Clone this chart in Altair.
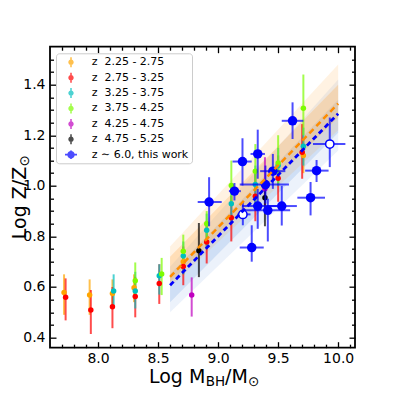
import altair as alt
import pandas as pd

# ---------------- data ----------------
series_names = ["z\u00a0 2.25 - 2.75", "z\u00a0 2.75 - 3.25", "z\u00a0 3.25 - 3.75",
                "z\u00a0 3.75 - 4.25", "z\u00a0 4.25 - 4.75", "z\u00a0 4.75 - 5.25",
                "z \u223c 6.0, this work"]
series_colors = ["#ffa500", "#ff0000", "#00bfbf", "#7cfc00", "#bf00bf", "#000000", "#0000ff"]

orange_x = [7.717, 7.93, 8.12, 8.30, 8.71, 9.71]
orange_y = [0.578, 0.568, 0.574, 0.597, 0.70, 1.12]
orange_lo = [0.49, 0.49, 0.52, 0.54, 0.65, 1.05]
orange_hi = [0.65, 0.63, 0.63, 0.65, 0.75, 1.19]

red_x = [7.73, 7.94, 8.12, 8.31, 8.51, 8.71, 8.905, 9.11, 9.31, 9.50, 9.70]
red_y = [0.559, 0.509, 0.522, 0.562, 0.614, 0.681, 0.778, 0.874, 0.959, 1.03, 1.133]
red_lo = [0.468, 0.414, 0.437, 0.48, 0.533, 0.607, 0.693, 0.78, 0.86, 0.937, 1.028]
red_hi = [0.634, 0.588, 0.60, 0.64, 0.69, 0.76, 0.86, 0.96, 1.05, 1.12, 1.244]

cyan_x = [8.13, 8.31, 8.51, 8.71, 8.905, 9.11, 9.31, 9.50, 9.71]
cyan_y = [0.584, 0.584, 0.644, 0.723, 0.824, 0.929, 1.005, 1.08, 1.156]
cyan_lo = [0.52, 0.515, 0.57, 0.65, 0.75, 0.85, 0.92, 1.0, 1.08]
cyan_hi = [0.65, 0.66, 0.69, 0.78, 0.89, 1.0, 1.08, 1.15, 1.23]

green_x = [8.31, 8.53, 8.71, 8.905, 9.11, 9.31, 9.50, 9.71]
green_y = [0.625, 0.651, 0.741, 0.85, 1.001, 1.058, 1.09, 1.307]
green_lo = [0.56, 0.568, 0.67, 0.78, 0.93, 0.98, 1.01, 1.20]
green_hi = [0.697, 0.715, 0.807, 0.90, 1.10, 1.165, 1.20, 1.44]

magenta_x = [8.78, 9.39]
magenta_y = [0.568, 0.988]
magenta_lo = [0.483, 0.92]
magenta_hi = [0.638, 1.113]

black_x = [8.84, 9.39]
black_y = [0.743, 0.953]
black_lo = [0.639, 0.84]
black_hi = [0.853, 1.0]

# this work (z ~ 6)
blue_x = [8.925, 9.136, 9.203, 9.33, 9.456, 9.394, 9.62, 9.82, 9.77, 9.33, 9.414, 9.53, 9.28, 9.206, 9.93]
blue_xlo = [8.83, 9.09, 9.12, 9.27, 9.35, 9.18, 9.53, 9.725, 9.66, 9.20, 9.22, 9.405, 9.18, 9.16, 9.79]
blue_xhi = [9.03, 9.19, 9.28, 9.39, 9.56, 9.59, 9.71, 9.92, 9.89, 9.49, 9.60, 9.656, 9.38, 9.27, 10.06]
blue_y = [0.936, 0.979, 1.096, 1.126, 1.058, 1.005, 1.257, 1.06, 0.953, 0.92, 0.903, 0.92, 0.756, 0.887, 1.165]
blue_ylo = [0.84, 0.942, 1.001, 1.028, 0.988, 0.93, 1.185, 1.015, 0.883, 0.83, 0.78, 0.843, 0.70, 0.844, 1.074]
blue_yhi = [1.034, 1.011, 1.188, 1.222, 1.126, 1.08, 1.33, 1.102, 1.015, 0.988, 0.949, 1.0, 0.844, 0.936, 1.27]
blue_open = [False] * 13 + [True, True]

# fits
fit_x = [8.6, 10.0]
orange_fit = [0.64, 1.325]
blue_fit = [0.607, 1.285]
orange_outer_lo = [0.60, 1.22]
orange_outer_hi = [0.76, 1.48]
orange_inner_lo = [0.62, 1.27]
orange_inner_hi = [0.72, 1.40]
blue_outer_lo = [0.50, 1.14]
blue_outer_hi = [0.68, 1.42]
blue_inner_lo = [0.54, 1.21]
blue_inner_hi = [0.65, 1.34]

# axis ticks
x_major = [8.0, 8.5, 9.0, 9.5, 10.0]
x_minor = [7.7, 7.8, 7.9, 8.1, 8.2, 8.3, 8.4, 8.6, 8.7, 8.8, 8.9, 9.1, 9.2, 9.3, 9.4,
           9.6, 9.7, 9.8, 9.9, 10.1]
y_major = [0.4, 0.6, 0.8, 1.0, 1.2, 1.4]
y_minor = [0.45, 0.5, 0.55, 0.65, 0.7, 0.75, 0.85, 0.9, 0.95, 1.05, 1.1, 1.15, 1.25,
           1.3, 1.35, 1.45, 1.5]

# ---------------- tables ----------------
rows = []
for name, col, xs_, ys_, lo_, hi_ in [
    (series_names[0], series_colors[0], orange_x, orange_y, orange_lo, orange_hi),
    (series_names[1], series_colors[1], red_x, red_y, red_lo, red_hi),
    (series_names[2], series_colors[2], cyan_x, cyan_y, cyan_lo, cyan_hi),
    (series_names[3], series_colors[3], green_x, green_y, green_lo, green_hi),
    (series_names[4], series_colors[4], magenta_x, magenta_y, magenta_lo, magenta_hi),
    (series_names[5], series_colors[5], black_x, black_y, black_lo, black_hi),
]:
    for a, b, c, d in zip(xs_, ys_, lo_, hi_):
        rows.append({"series": name, "col": col, "x": a, "y": b, "lo": c, "hi": d})
lit = pd.DataFrame(rows)

blue = pd.DataFrame({"x": blue_x, "xlo": blue_xlo, "xhi": blue_xhi,
                     "y": blue_y, "ylo": blue_ylo, "yhi": blue_yhi, "open": blue_open})

fits = pd.DataFrame({"x": fit_x, "of": orange_fit, "bf": blue_fit,
                     "oolo": orange_outer_lo, "oohi": orange_outer_hi,
                     "oilo": orange_inner_lo, "oihi": orange_inner_hi,
                     "bolo": blue_outer_lo, "bohi": blue_outer_hi,
                     "bilo": blue_inner_lo, "bihi": blue_inner_hi})

legend_df = pd.DataFrame({"series": series_names})

# ---------------- scales / axes ----------------
W, H = 305, 301
xs = alt.Scale(domain=[7.6, 10.14], nice=False, zero=False)
ys = alt.Scale(domain=[0.36, 1.55], nice=False, zero=False)
FONT = "DejaVu Sans"

def ax(orient, values, size, labels):
    kw = dict(orient=orient, values=values, tickSize=size, offset=-size, domain=False,
              grid=False, tickColor="black", tickWidth=1.3, labels=labels, title=None)
    if labels:
        kw.update(format=".1f", labelFont=FONT, labelFontSize=14, labelColor="black",
                  labelPadding=4 if orient == "bottom" else 5, labelOverlap=False, labelFlush=False)
    return alt.Axis(**kw)

def X(field, axis=None):
    return alt.X(field, type="quantitative", scale=xs, axis=axis, title=None)

def Y(field, axis=None):
    return alt.Y(field, type="quantitative", scale=ys, axis=axis, title=None)

base_fit = alt.Chart(fits)
blue_outer = base_fit.mark_area(color="#6b9be0", opacity=0.13).encode(
    x=X("x", ax("bottom", x_major, 6, True)), y=Y("bolo", ax("left", y_major, 6, True)), y2="bohi")
blue_inner = base_fit.mark_area(color="#6b9be0", opacity=0.22).encode(
    x=X("x", ax("bottom", x_minor, 3.5, False)), y=Y("bilo", ax("left", y_minor, 3.5, False)), y2="bihi")
orange_outer = base_fit.mark_area(color="#ffa030", opacity=0.14).encode(
    x=X("x", ax("top", x_major, 6, False)), y=Y("oolo", ax("right", y_major, 6, False)), y2="oohi")
orange_inner = base_fit.mark_area(color="#ffa030", opacity=0.24).encode(
    x=X("x", ax("top", x_minor, 3.5, False)), y=Y("oilo", ax("right", y_minor, 3.5, False)), y2="oihi")

lit_err = alt.Chart(lit).mark_rule(strokeWidth=2, opacity=0.7).encode(
    x=X("x"), y=Y("lo"), y2="hi", color=alt.Color("col:N", scale=None))
lit_pts = alt.Chart(lit).mark_point(filled=True, size=30, opacity=1).encode(
    x=X("x"), y=Y("y"), color=alt.Color("col:N", scale=None))

b = alt.Chart(blue)
b_xerr = b.mark_rule(color="#0000ff", strokeWidth=2, opacity=0.7).encode(x=X("xlo"), x2="xhi", y=Y("y"))
b_yerr = b.mark_rule(color="#0000ff", strokeWidth=2, opacity=0.7).encode(x=X("x"), y=Y("ylo"), y2="yhi")
b_fill = b.transform_filter("!datum.open").mark_point(filled=True, size=90, color="#0000ff", opacity=1).encode(
    x=X("x"), y=Y("y"))
b_open = b.transform_filter("datum.open").mark_point(filled=True, size=70, fill="white", stroke="#0000ff",
                                                      strokeWidth=1.5, opacity=1).encode(x=X("x"), y=Y("y"))

orange_line = base_fit.mark_line(color="#ff8c00", strokeWidth=2.5, strokeDash=[6, 4]).encode(x=X("x"), y=Y("of"))
blue_line = base_fit.mark_line(color="#0000ff", strokeWidth=2.8, strokeDash=[5, 3.5]).encode(x=X("x"), y=Y("bf"))

small_sym = ("M-0.13,-0.83L0.13,-0.83L0.13,0.83L-0.13,0.83Z "
             "M-0.45,0A0.45,0.45 0 1,1 0.45,0A0.45,0.45 0 1,1 -0.45,0Z")
big_sym = ("M-0.15,-0.72L0.15,-0.72L0.15,0.72L-0.15,0.72Z "
           "M-1,-0.15L1,-0.15L1,0.15L-1,0.15Z "
           "M-0.62,0A0.62,0.62 0 1,1 0.62,0A0.62,0.62 0 1,1 -0.62,0Z")
legend_layer = alt.Chart(legend_df).transform_filter("false").mark_point(filled=True, size=144, opacity=1).encode(
    color=alt.Color("series:N", sort=series_names,
                    scale=alt.Scale(domain=series_names, range=series_colors),
                    legend=alt.Legend(orient="none", legendX=6, legendY=6.6, title=None, padding=3,
                                      symbolOffset=6, labelOffset=14.7, rowPadding=4.4,
                                      symbolSize=144, symbolStrokeWidth=0,
                                      labelFont=FONT, labelFontSize=11, labelColor="black",
                                      labelLimit=300, strokeColor="#cccccc", fillColor="white",
                                      cornerRadius=3)),
    shape=alt.Shape("series:N", sort=series_names,
                    scale=alt.Scale(domain=series_names, range=[small_sym] * 6 + [big_sym])))

one = alt.Data(values=[{}])
def txt(s, x, y, size, angle=0):
    kw = dict(font=FONT, fontSize=size, align="left", baseline="alphabetic", color="black")
    if angle:
        kw["angle"] = angle
    return alt.Chart(one).mark_text(**kw).encode(x=alt.value(x), y=alt.value(y), text=alt.value(s))

xt1 = txt("Log M", 99, 336.3, 19)
xt2 = txt("BH", 155.7, 339.3, 13.5)
xt3 = txt("/M", 175.1, 336.3, 19)
xt4 = txt("\u2299", 197.9, 339.3, 13.5)
yt1 = txt("Log Z/Z", -24.5, 192.5, 19, angle=270)
yt2 = txt("\u2299", -21.5, 119.7, 13.5, angle=270)

chart = alt.layer(
    blue_outer, blue_inner, orange_outer, orange_inner,
    lit_err, lit_pts, b_xerr, b_yerr, b_fill, b_open,
    orange_line, blue_line, legend_layer,
    xt1, xt2, xt3, xt4, yt1, yt2,
).resolve_axis(x="independent", y="independent").properties(
    width=W, height=H,
    autosize=alt.AutoSizeParams(type="none"),
    padding={"left": 42, "top": 38.7, "right": 30, "bottom": 42},
).configure_view(stroke="black", strokeWidth=1.8)

chart.save("out.html", embed_options={"renderer": "svg", "actions": False})
